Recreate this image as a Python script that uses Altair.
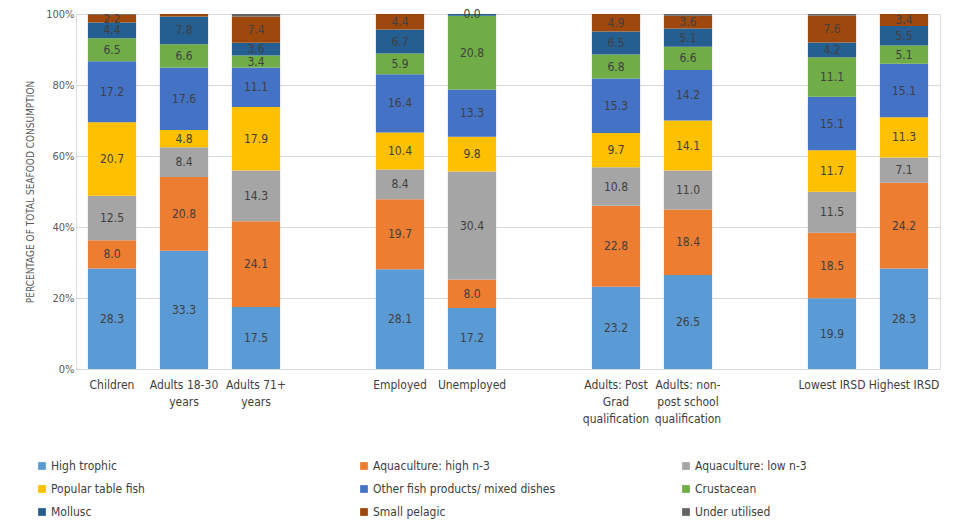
import altair as alt
import pandas as pd

categories = ["Children", "Adults 18-30|years", "Adults 71+|years",
              "Employed", "Unemployed",
              "Adults: Post|Grad|qualification", "Adults: non-|post school|qualification",
              "Lowest IRSD", "Highest IRSD"]
slots = ["Children", "Adults 18-30|years", "Adults 71+|years", " ",
         "Employed", "Unemployed", "  ",
         "Adults: Post|Grad|qualification", "Adults: non-|post school|qualification", "   ",
         "Lowest IRSD", "Highest IRSD"]

series = ["High trophic", "Aquaculture: high n-3", "Aquaculture: low n-3",
          "Popular table fish", "Other fish products/ mixed dishes", "Crustacean",
          "Mollusc", "Small pelagic", "Under utilised"]
colors = ["#5B9BD5", "#ED7D31", "#A5A5A5", "#FFC000", "#4472C4", "#70AD47",
          "#255E91", "#9E480E", "#636363"]

high_trophic = [28.3, 33.3, 17.5, 28.1, 17.2, 23.2, 26.5, 19.9, 28.3]
aqua_high = [8.0, 20.8, 24.1, 19.7, 8.0, 22.8, 18.4, 18.5, 24.2]
aqua_low = [12.5, 8.4, 14.3, 8.4, 30.4, 10.8, 11.0, 11.5, 7.1]
popular = [20.7, 4.8, 17.9, 10.4, 9.8, 9.7, 14.1, 11.7, 11.3]
other = [17.2, 17.6, 11.1, 16.4, 13.3, 15.3, 14.2, 15.1, 15.1]
crustacean = [6.5, 6.6, 3.4, 5.9, 20.8, 6.8, 6.6, 11.1, 5.1]
mollusc = [4.4, 7.8, 3.6, 6.7, 0.5, 6.5, 5.1, 4.2, 5.5]
small_pelagic = [2.2, 0.7, 7.4, 4.4, 0.0, 4.9, 3.6, 7.6, 3.4]
under_utilised = [0.2, None, 0.7, None, None, None, 0.5, 0.4, None]

values = [high_trophic, aqua_high, aqua_low, popular, other, crustacean,
          mollusc, small_pelagic, under_utilised]

rows = []
for j, (s, vals) in enumerate(zip(series, values)):
    for c, v in zip(categories, vals):
        if v is None:
            continue
        lab = f"{v:.1f}" if (v >= 2 or v == 0) else ""
        rows.append({"cat": c, "series": s, "order": j, "value": v, "label": lab})
df = pd.DataFrame(rows)

FONT = "Liberation Sans Narrow, DejaVu Sans Condensed, Arial Narrow, sans-serif"

x_enc = alt.X("cat:N", scale=alt.Scale(domain=slots, paddingInner=0.33, paddingOuter=0.165),
              axis=alt.Axis(title=None, labelAngle=0, labelExpr="split(datum.label, '|')",
                            labelFontSize=12, labelColor="#404040", labelPadding=10,
                            labelLineHeight=17, ticks=False, domainColor="#D9D9D9",
                            labelFont=FONT, labelBaseline="top"))

base = alt.Chart(df)

bars = base.mark_bar().encode(
    x=x_enc,
    y=alt.Y("value:Q", stack="zero",
            scale=alt.Scale(domain=[0, 100], nice=False),
            axis=alt.Axis(title="PERCENTAGE OF TOTAL SEAFOOD CONSUMPTION",
                          values=list(range(0, 101, 10)),
                          labelExpr="datum.value + '%'",
                          labelFontSize=11, labelColor="#595959", labelFont=FONT,
                          titleFontSize=10, titleFontWeight="normal", titleColor="#595959",
                          titleFont=FONT, titlePadding=10,
                          ticks=False, domain=False, gridColor="#D9D9D9")),
    color=alt.Color("series:N", scale=alt.Scale(domain=series, range=colors),
                    legend=alt.Legend(title=None, orient="none", legendX=-40, legendY=446,
                                      direction="horizontal",
                                      columns=3, columnPadding=124, rowPadding=11,
                                      gridAlign="all", symbolType="square", symbolSize=60,
                                      symbolStrokeWidth=0, labelFontSize=12, labelLimit=400,
                                      labelColor="#404040", labelFont=FONT, labelOffset=3)),
    order=alt.Order("order:Q", sort="ascending"),
)

texts = base.transform_stack(
    stack="value", as_=["y0", "y1"], groupby=["cat"], sort=[alt.SortField("order")]
).transform_calculate(
    mid="(datum.y0 + datum.y1) / 2"
).mark_text(fontSize=12, color="#404040", font=FONT).encode(
    x=alt.X("cat:N", scale=alt.Scale(domain=slots)),
    y=alt.Y("mid:Q"),
    text="label:N",
)

chart = alt.layer(bars, texts).properties(
    width=864, height=355,
    autosize=alt.AutoSizeParams(type="none"),
    padding={"left": 68, "top": 6, "right": 9, "bottom": 153},
).configure_view(stroke=None).configure(background="white")

chart.save("out.html", embed_options={"renderer": "svg", "actions": False})
